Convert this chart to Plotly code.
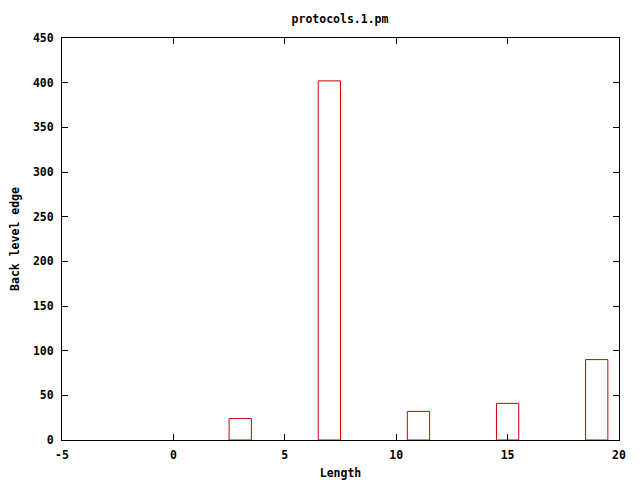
import plotly.graph_objects as go

lengths = [3, 7, 11, 15, 19]
counts = [24, 402, 32, 41, 90]
x_ticks = [-5, 0, 5, 10, 15, 20]
y_ticks = [0, 50, 100, 150, 200, 250, 300, 350, 400, 450]

font = dict(family="DejaVu Sans Mono", size=11.5, color="black", weight="bold")

fig = go.Figure(go.Bar(
    x=lengths, y=counts, width=1.0,
    marker=dict(color="rgba(0,0,0,0)", line=dict(color="#cc0000", width=1)),
))

axis_common = dict(
    showgrid=False, zeroline=False, showline=True, linecolor="black", linewidth=1,
    mirror="allticks", ticks="inside", ticklen=6, tickcolor="black", tickwidth=1,
    tickfont=font, automargin=False,
)

# page has an 8px body margin, so the figure sits at (8, 8)
fig.update_layout(
    width=640, height=480,
    margin=dict(l=54, r=29, t=30, b=48),
    paper_bgcolor="white", plot_bgcolor="white",
    showlegend=False,
    title=dict(text="protocols.1.pm", x=(340 - 8) / 640, xanchor="center",
               y=1 - 11 / 480, yanchor="middle", font=font),
    xaxis=dict(range=[-5, 20], tickvals=x_ticks, ticktext=[str(v) for v in x_ticks],
               ticklabelstandoff=4,
               title=dict(text="Length", font=font, standoff=8), **axis_common),
    yaxis=dict(range=[0, 450], tickvals=y_ticks, ticktext=[str(v) for v in y_ticks],
               ticklabelstandoff=5,
               title=dict(text="Back level edge", font=font, standoff=14), **axis_common),
)

fig.write_html("out.html")
